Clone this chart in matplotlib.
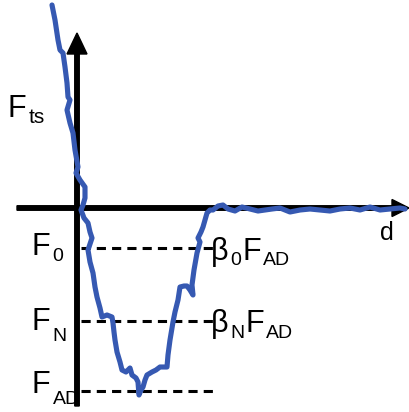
import numpy as np
import matplotlib.pyplot as plt

# tip-sample force curve (origin at axis crossing)
d = [-25, -22, -19, -17, -14, -12, -10, -9, -7, -10, -7, -4, -2, 1, -1, 3, 8, 8, 6, 4,
     7, 11, 13, 15, 11, 13, 16, 18, 20, 23, 25, 30, 35, 36, 37, 38, 40, 43, 45, 49,
     53, 55, 59, 61, 62, 64, 66, 68, 70, 75, 79, 83, 90, 91, 93, 96, 98, 101, 103, 107,
     110, 113, 116, 115, 117, 120, 123, 121, 124, 126, 128, 130, 133, 136, 141, 146, 151, 158, 165, 173,
     181, 188, 195, 203, 213, 223, 233, 243, 253, 263, 273, 283, 293, 303, 313, 323, 328]
F_ts = [203, 188, 168, 158, 155, 141, 125, 111, 108, 98, 85, 75, 58, 41, 35, 28, 21, 10, 3, -2,
        -10, -15, -24, -30, -42, -54, -65, -79, -89, -100, -109, -107, -109, -115, -124, -132, -144, -154, -162, -164,
        -160, -167, -170, -174, -187, -182, -179, -172, -167, -164, -162, -159, -159, -147, -132, -114, -104, -92, -79, -78,
        -78, -82, -87, -77, -62, -45, -34, -30, -24, -19, -12, -5, -2, -2, 2, 3, -1, -3, 1, -1,
        -3, -2, -1, 0, -4, -2, -1, -2, -3, -1, 0, -2, 1, -2, -1, 0, -1]

# force levels
F0 = -40
FN = -113
FAD = -183
levels = [F0, FN, FAD]

blue = '#3659b2'

plt.rcParams['font.family'] = 'Liberation Sans'

fig = plt.figure(figsize=(4.10, 4.12), dpi=100)
ax = fig.add_axes([0, 0, 1, 1])
ax.set_xlim(-77, 333)
ax.set_ylim(-204, 208)
ax.axis('off')

# axes with arrows
ax.arrow(0, -198, 0, 373, width=4.5, head_width=20, head_length=21,
         length_includes_head=True, color='k', zorder=2)
ax.arrow(-60, 0, 392, 0, width=4.5, head_width=17, head_length=17,
         length_includes_head=True, color='k', zorder=2)

# dashed force levels
for lev in levels:
    ax.plot([4, 137], [lev, lev], color='k', lw=2.2, ls=(0, (3, 2)), zorder=1)

ax.plot(d, F_ts, color=blue, lw=3.7, solid_joinstyle='round',
        solid_capstyle='round', zorder=3)


def label(x, y, parts, size=22, subsize=14, off=-2.0):
    # parts: list of (text, is_subscript); everything keyed to the first text's bbox bottom
    base = ax.text(x, y, parts[0][0], fontsize=size, va='baseline', ha='left')
    prev = base
    for txt, sub in parts[1:]:
        fs = subsize if sub else size
        dy = off if sub else 0
        gap = 1.5 if sub else 0.5
        prev = ax.annotate(txt, xy=(1, 0), xycoords=(prev, base),
                           xytext=(gap, dy), textcoords='offset points',
                           fontsize=fs, va='bottom', ha='left')
    return base


label(-69, 91, [('F', False), ('ts', True)], subsize=15, off=-2.5)
label(-45, -47, [('F', False), ('0', True)])
label(-45, -122, [('F', False), ('N', True)], off=-5.5)
label(-45, -185, [('F', False), ('AD', True)], off=-5.5)
label(134, -52, [('β', False), ('0', True), ('F', False), ('AD', True)], off=-1.5)
label(134, -124, [('β', False), ('N', True), ('F', False), ('AD', True)], off=-2.5)
ax.text(303, -32, 'd', fontsize=18, va='baseline', ha='left')

fig.savefig('out.png', dpi=100)
